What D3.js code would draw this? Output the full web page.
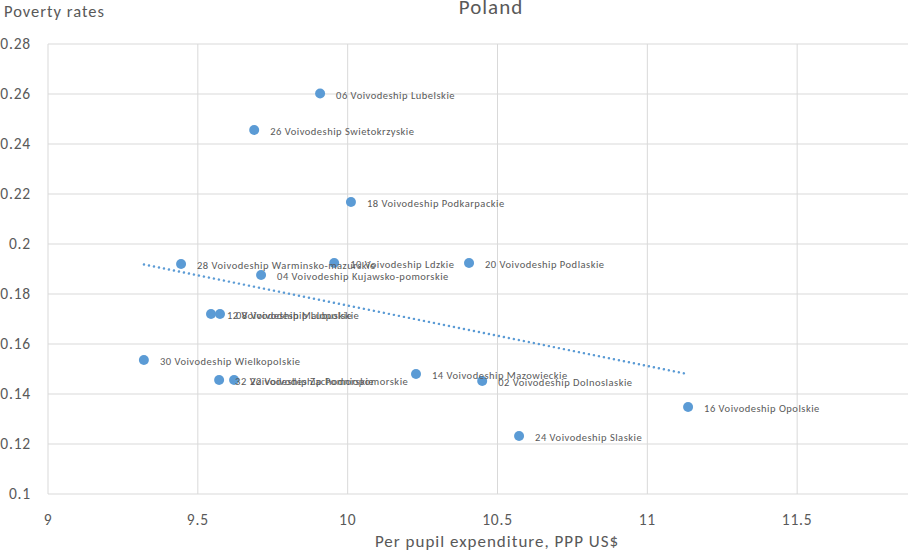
<!DOCTYPE html>
<html><head><meta charset="utf-8">
<script src="https://cdn.jsdelivr.net/npm/d3@7"></script>
<style>body{margin:0;background:#fff}svg{display:block}text{font-family:Carlito,Calibri,Lato,sans-serif;fill:#595959}</style>
</head><body><svg id="c" width="908" height="556"></svg>
<script>
const names = ["06 Voivodeship Lubelskie","26 Voivodeship Swietokrzyskie","18 Voivodeship Podkarpackie","28 Voivodeship Warminsko-mazurskie","10 Voivodeship Ldzkie","20 Voivodeship Podlaskie","04 Voivodeship Kujawsko-pomorskie","12 Voivodeship Malopolskie","08 Voivodeship Lubuskie","30 Voivodeship Wielkopolskie","32 Voivodeship Zachodniopomorskie","22 Voivodeship Pomorskie","14 Voivodeship Mazowieckie","02 Voivodeship Dolnoslaskie","16 Voivodeship Opolskie","24 Voivodeship Slaskie"];
const expenditure = [9.908,9.688,10.011,9.444,9.955,10.405,9.711,9.544,9.574,9.320,9.571,9.621,10.228,10.449,11.136,10.572];
const poverty = [0.2602,0.2456,0.2168,0.192,0.1924,0.1924,0.1876,0.172,0.172,0.1536,0.1456,0.1456,0.148,0.1452,0.1348,0.1232];
const xTicks = [9,9.5,10,10.5,11,11.5];
const yTicks = [0.1,0.12,0.14,0.16,0.18,0.2,0.22,0.24,0.26,0.28];

const svg = d3.select("#c");
const x = d3.scaleLinear().domain([9,12]).range([48,947]);
const y = d3.scaleLinear().domain([0.1,0.28]).range([494,44]);
const data = names.map((n,i)=>({n, x:expenditure[i], y:poverty[i]}));

const g = svg.append("g");
g.selectAll(".vg").data(xTicks).join("line").attr("x1",d=>x(d)).attr("x2",d=>x(d)).attr("y1",y(0.28)).attr("y2",y(0.1)).attr("stroke","#d9d9d9").attr("stroke-width",1);
g.selectAll(".hg").data(yTicks).join("line").attr("x1",x(9)).attr("x2",908).attr("y1",d=>y(d)).attr("y2",d=>y(d)).attr("stroke","#d9d9d9").attr("stroke-width",1);

g.selectAll(".yt").data(yTicks).join("text").attr("x",31).attr("y",d=>y(d)).attr("dy","0.35em").attr("text-anchor","end").attr("font-size",15.5).attr("letter-spacing",0.8).text(d=>d3.format("")(+d.toFixed(2)));
g.selectAll(".xt").data(xTicks).join("text").attr("x",d=>x(d)).attr("y",525).attr("text-anchor","middle").attr("font-size",15.5).attr("letter-spacing",0.8).text(d=>d);

// trendline (least squares)
const mx = d3.mean(expenditure), my = d3.mean(poverty);
const slope = d3.sum(data,d=>(d.x-mx)*(d.y-my))/d3.sum(data,d=>(d.x-mx)**2);
const icpt = my - slope*mx;
const [x0,x1] = d3.extent(expenditure);
g.append("line").attr("x1",x(x0)).attr("x2",x(x1)).attr("y1",y(icpt+slope*x0)).attr("y2",y(icpt+slope*x1))
 .attr("stroke","#5b9bd5").attr("stroke-width",2.4).attr("stroke-dasharray","0.1,5").attr("stroke-linecap","round");

g.selectAll(".pt").data(data).join("circle").attr("cx",d=>x(d.x)).attr("cy",d=>y(d.y)).attr("r",5).attr("fill","#5b9bd5");
g.selectAll(".lb").data(data).join("text").attr("x",d=>x(d.x)+16).attr("y",d=>y(d.y)+1.5).attr("dy","0.35em").attr("font-size",10.5).attr("letter-spacing",0.5).text(d=>d.n);

svg.append("text").attr("x",4).attr("y",17).attr("font-size",16.5).attr("letter-spacing",1).text("Poverty rates");
svg.append("text").attr("x",491).attr("y",14).attr("text-anchor","middle").attr("font-size",21).attr("letter-spacing",1).text("Poland");
svg.append("text").attr("x",497).attr("y",547).attr("text-anchor","middle").attr("font-size",17).attr("letter-spacing",1).text("Per pupil expenditure, PPP US$");
</script></body></html>
